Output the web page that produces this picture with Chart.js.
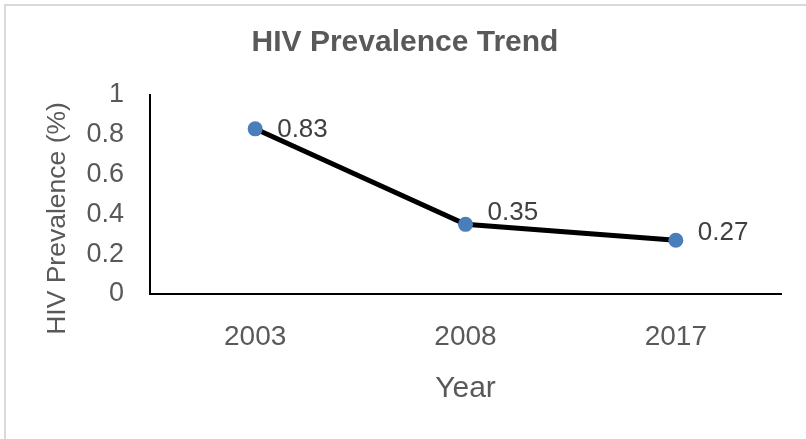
<!DOCTYPE html>
<html>
<head>
<meta charset="utf-8">
<script src="https://cdn.jsdelivr.net/npm/chart.js@4"></script>
<style>
html,body{margin:0;padding:0;background:#fff;}
canvas{display:block;}
</style>
</head>
<body>
<canvas id="c" width="806" height="439"></canvas>
<script>
const categories = ['2003', '2008', '2017'];
const prevalence = [0.83, 0.35, 0.27];
const yTickValues = [0, 0.2, 0.4, 0.6, 0.8, 1];
const chartTitle = 'HIV Prevalence Trend';
const xTitle = 'Year';
const yTitle = 'HIV Prevalence (%)';

const frame = {
  id: 'frame',
  beforeDraw(chart) {
    const ctx = chart.ctx;
    ctx.save();
    ctx.fillStyle = '#ffffff';
    ctx.fillRect(0, 0, chart.width, chart.height);
    ctx.fillStyle = '#d9d9d9';
    ctx.fillRect(4, 4, 2, chart.height - 4);
    ctx.fillRect(4, 4, chart.width - 4, 2);
    ctx.restore();
  }
};

const texts = {
  id: 'texts',
  afterDraw(chart, args, opts) {
    const ctx = chart.ctx;
    ctx.save();
    ctx.font = opts.titleFont;
    ctx.fillStyle = opts.color;
    ctx.textAlign = 'center';
    ctx.textBaseline = 'middle';
    ctx.fillText(opts.title, opts.titleX, opts.titleY);
    ctx.restore();

    ctx.save();
    ctx.font = opts.yTitleFont;
    ctx.fillStyle = opts.color;
    ctx.translate(opts.yTitleX, opts.yTitleY);
    ctx.rotate(-Math.PI / 2);
    ctx.textAlign = 'center';
    ctx.textBaseline = 'alphabetic';
    ctx.fillText(opts.yTitle, 0, 0);
    ctx.restore();
  }
};

const dataLabels = {
  id: 'dataLabels',
  afterDatasetsDraw(chart, args, opts) {
    const ctx = chart.ctx;
    const meta = chart.getDatasetMeta(0);
    const ds = chart.data.datasets[0];
    ctx.save();
    ctx.font = opts.font;
    ctx.fillStyle = opts.color;
    ctx.textAlign = 'left';
    ctx.textBaseline = 'middle';
    meta.data.forEach((pt, i) => {
      const dy = (opts.dy && opts.dy[i]) || 0;
      ctx.fillText(String(ds.data[i]), pt.x + opts.dx, pt.y + dy);
    });
    ctx.restore();
  }
};

new Chart(document.getElementById('c'), {
  type: 'line',
  data: {
    labels: categories,
    datasets: [{
      data: prevalence,
      borderColor: '#000000',
      borderWidth: 5,
      pointRadius: 7.5,
      pointHoverRadius: 7.5,
      pointBackgroundColor: '#4a7ebb',
      pointBorderWidth: 0,
      tension: 0,
      fill: false
    }]
  },
  options: {
    responsive: false,
    animation: false,
    events: [],
    layout: { padding: { left: 0, right: 25, top: 95, bottom: 0 } },
    plugins: {
      legend: { display: false },
      tooltip: { enabled: false },
      title: { display: false },
      texts: {
        color: '#595959',
        title: chartTitle,
        titleFont: 'bold 30px "Liberation Sans", Arial, sans-serif',
        titleX: 405,
        titleY: 43,
        yTitle: yTitle,
        yTitleFont: '26.5px "Liberation Sans", Arial, sans-serif',
        yTitleX: 64.5,
        yTitleY: 218.5
      },
      dataLabels: {
        font: '26px "Liberation Sans", Arial, sans-serif',
        color: '#404040',
        dx: 22,
        dy: [1, -12, -7]
      }
    },
    scales: {
      x: {
        type: 'category',
        offset: true,
        grid: { display: false, drawTicks: false },
        border: { display: true, color: '#000000', width: 2 },
        ticks: {
          color: '#595959',
          padding: 26,
          font: { family: '"Liberation Sans", Arial, sans-serif', size: 28, lineHeight: 1.2 },
          maxRotation: 0
        },
        title: {
          display: true,
          text: xTitle,
          color: '#595959',
          font: { family: '"Liberation Sans", Arial, sans-serif', size: 30, lineHeight: 1.2 },
          padding: { top: 0, bottom: 32 }
        },
        afterFit(scale) { scale.height = 145; }
      },
      y: {
        min: 0,
        max: 1,
        grid: { display: false, drawTicks: false },
        border: { display: true, color: '#000000', width: 2 },
        afterBuildTicks(scale) { scale.ticks = yTickValues.map(v => ({ value: v })); },
        ticks: {
          color: '#595959',
          padding: 26,
          font: { family: '"Liberation Sans", Arial, sans-serif', size: 27, lineHeight: 1.2 },
          callback: (v) => String(Number(Number(v).toFixed(1)))
        },
        title: { display: false },
        afterFit(scale) { scale.width = 150; }
      }
    }
  },
  plugins: [frame, texts, dataLabels]
});
</script>
</body>
</html>
